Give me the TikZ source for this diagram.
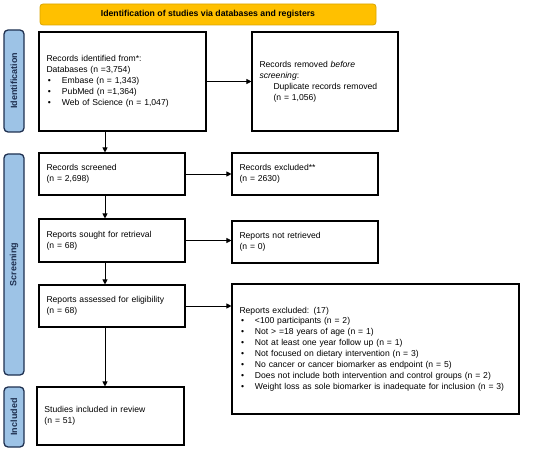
\documentclass[tikz,border=0pt]{standalone}
\usepackage{fontspec}
\setmainfont{Liberation Sans}
\usetikzlibrary{arrows.meta,calc}
\definecolor{bannerfill}{HTML}{FFC000}
\definecolor{bannerline}{HTML}{D9A400}
\definecolor{sidefill}{HTML}{9DC3E6}
\definecolor{sideline}{HTML}{1F3050}
\newcommand{\bl}[1]{\makebox[15.5pt][l]{\hspace{1.5pt}\textbullet}#1}
\begin{document}
\begin{tikzpicture}[x=1pt,y=-1pt,
  every node/.style={font=\fontsize{8.6}{10.9}\selectfont},
  box/.style={draw=black,line width=1.1pt,fill=white,inner xsep=7.5pt,inner ysep=2pt,align=left,anchor=center},
  banner/.style={draw=bannerline,line width=0.8pt,fill=bannerfill,rounded corners=3pt,
     minimum width=336pt,minimum height=21pt,inner sep=0pt,font=\fontsize{8.7}{10}\selectfont\bfseries},
  side/.style={draw=sideline,line width=1.3pt,fill=sidefill,rounded corners=4pt,
     minimum width=20pt,inner sep=0pt,rotate=90,text=sideline,font=\fontsize{9}{10}\selectfont\bfseries},
  arr/.style={line width=0.8pt,-{Triangle[length=5pt,width=5pt]}}]
\useasboundingbox (0,0) rectangle (550,452);

\node[banner] (ban) at (208,14.5) {Identification of studies via databases and registers};

\node[side,minimum width=102pt,minimum height=20pt] (s1) at (14,81) {Identification};
\node[side,minimum width=221pt,minimum height=20pt] (s2) at (14,264.5) {Screening};
\node[side,minimum width=60pt,minimum height=20pt] (s3) at (14,417) {Included};

\node[box,minimum width=167pt,minimum height=99pt,text width=152pt] (id) at (122.5,81.5)
 {Records identified from*:\\Databases (n =3,754)\\
  \bl{Embase (n = 1,343)}\\\bl{PubMed (n =1,364)}\\\bl{Web of Science (n = 1,047)}};

\node[box,minimum width=146pt,minimum height=99pt,text width=131pt] (dup) at (325,81.5)
 {Records removed \textit{before}\\\textit{screening}:\\
  \hspace*{14pt}Duplicate records removed\\\hspace*{14pt}(n = 1,056)\\[6pt]};

\node[box,minimum width=146pt,minimum height=42pt,text width=131pt] (scr) at (112,174)
 {Records screened\\(n = 2,698)};
\node[box,minimum width=146pt,minimum height=42pt,text width=131pt] (exc) at (305,174)
 {Records excluded**\\(n = 2630)};

\node[box,minimum width=146pt,minimum height=43pt,text width=131pt] (sought) at (112,240.5)
 {Reports sought for retrieval\\(n = 68)};
\node[box,minimum width=146pt,minimum height=42pt,text width=131pt] (notret) at (305,242)
 {Reports not retrieved\\(n = 0)};

\node[box,minimum width=146pt,minimum height=42pt,text width=131pt] (assess) at (112,306)
 {Reports assessed for eligibility\\(n = 68)};
\node[box,minimum width=287pt,minimum height=130pt,text width=272pt] (rexc) at (375.5,349)
 {Reports excluded: (17)\\
  \bl{<100 participants (n = 2)}\\
  \bl{Not > =18 years of age (n = 1)}\\
  \bl{Not at least one year follow up (n = 1)}\\
  \bl{Not focused on dietary intervention (n = 3)}\\
  \bl{No cancer or cancer biomarker as endpoint (n = 5)}\\
  \bl{Does not include both intervention and control groups (n = 2)}\\
  \bl{Weight loss as sole biomarker is inadequate for inclusion (n = 3)}\\[9pt]};

\node[box,minimum width=147pt,minimum height=58pt,text width=132pt] (incl) at (110.5,416)
 {Studies included in review\\(n = 51)\\[8pt]};

\coordinate (vx) at (105,0);
\draw[arr] (id.south -| vx) -- (scr.north -| vx);
\draw[arr] (scr.south -| vx) -- (sought.north -| vx);
\draw[arr] (sought.south -| vx) -- (assess.north -| vx);
\draw[arr] (assess.south -| vx) -- (incl.north -| vx);

\draw[arr] (id.east) -- (id.east -| dup.west);
\draw[arr] (scr.east) -- (scr.east -| exc.west);
\draw[arr] (sought.east) -- (sought.east -| notret.west);
\draw[arr] (assess.east) -- (assess.east -| rexc.west);
\end{tikzpicture}
\end{document}
